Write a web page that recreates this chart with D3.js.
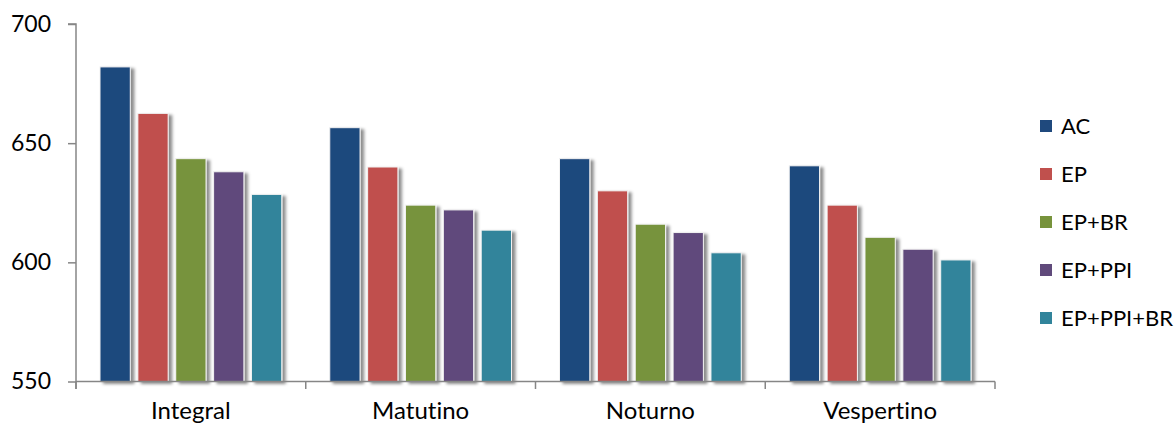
<!DOCTYPE html>
<html>
<head>
<meta charset="utf-8">
<script src="https://cdn.jsdelivr.net/npm/d3@7"></script>
<style>
  html, body { margin: 0; padding: 0; background: #fff; }
  svg { display: block; }
  text { font-family: Lato, "Open Sans", sans-serif; fill: #000; font-variant-ligatures: none; }
</style>
</head>
<body>
<svg id="chart" width="1176" height="425"></svg>
<script>
// Periods (x categories) and series names
const categories = ["Integral", "Matutino", "Noturno", "Vespertino"];
const seriesNames = ["AC", "EP", "EP+BR", "EP+PPI", "EP+PPI+BR"];
const seriesColors = ["#1F497D", "#C0504D", "#77933C", "#604A7B", "#31849B"];

// Values per series, ordered like categories
const valuesAC       = [682, 656.5, 643.5, 640.5];
const valuesEP       = [662.5, 640, 630, 624];
const valuesEPBR     = [643.5, 624, 616, 610.5];
const valuesEPPPI    = [638, 622, 612.5, 605.5];
const valuesEPPPIBR  = [628.5, 613.5, 604, 601];

const yTicks = [550, 600, 650, 700];

const seriesValues = [valuesAC, valuesEP, valuesEPBR, valuesEPPPI, valuesEPPPIBR];

const svg = d3.select("#chart");

const plot = { left: 76, right: 995, top: 24, bottom: 381.5 };

const x0 = d3.scaleBand().domain(categories).range([plot.left, plot.right]).padding(0);
const x1 = d3.scaleBand().domain(seriesNames)
  .range([24, x0.bandwidth() - 24]).paddingInner(0.2).paddingOuter(0);
const y = d3.scaleLinear().domain([550, 700]).range([plot.bottom, plot.top]);

// drop shadow for the bars
const defs = svg.append("defs");
const f = defs.append("filter").attr("id", "shadow")
  .attr("x", "-20%").attr("y", "-10%").attr("width", "160%").attr("height", "130%");
f.append("feDropShadow").attr("dx", 3.5).attr("dy", 2).attr("stdDeviation", 1.8)
  .attr("flood-color", "#000").attr("flood-opacity", 0.45);

// bars
const groups = svg.append("g").selectAll("g")
  .data(categories)
  .join("g")
  .attr("transform", d => `translate(${x0(d)},0)`);

groups.selectAll("rect")
  .data((c, ci) => seriesNames.map((s, si) => ({ s, si, v: seriesValues[si][ci] })))
  .join("rect")
  .attr("x", d => x1(d.s))
  .attr("y", d => y(d.v))
  .attr("width", x1.bandwidth())
  .attr("height", d => y(550) - y(d.v))
  .attr("fill", d => seriesColors[d.si])
  .attr("stroke", "#f2f2f2")
  .attr("stroke-width", 1)
  .attr("filter", "url(#shadow)");

// y axis
const yAxis = d3.axisLeft(y).tickValues(yTicks).tickSize(8).tickPadding(17).tickFormat(d3.format("d"));
const gy = svg.append("g").attr("transform", `translate(${plot.left},0)`).call(yAxis);
gy.select(".domain").attr("stroke", "#868686").attr("stroke-width", 1.5)
  .attr("d", `M-8,${plot.top}H0V${plot.bottom + 7.5}`);
gy.selectAll(".tick line").attr("stroke", "#868686").attr("stroke-width", 1.5);
gy.selectAll(".tick text").style("font-size", "23px").style("font-family", "Lato, 'Open Sans', sans-serif").attr("fill", "#000");

// x axis with ticks between categories
const gx = svg.append("g").attr("transform", `translate(0,${plot.bottom})`);
gx.append("line").attr("x1", plot.left).attr("x2", plot.right).attr("y1", 0).attr("y2", 0)
  .attr("stroke", "#868686").attr("stroke-width", 1.5);
const boundaries = categories.map(c => x0(c) + x0.bandwidth()).concat([plot.left]);
gx.selectAll("line.tick").data(boundaries).join("line").attr("class", "tick")
  .attr("x1", d => d).attr("x2", d => d).attr("y1", 0).attr("y2", 7.5)
  .attr("stroke", "#868686").attr("stroke-width", 1.5);
gx.selectAll("text").data(categories).join("text")
  .attr("x", d => x0(d) + x0.bandwidth() / 2)
  .attr("y", 37.5)
  .attr("text-anchor", "middle")
  .style("font-size", "24px")
  .text(d => d);

// legend
const legend = svg.append("g").attr("transform", "translate(1040,126)");
const items = legend.selectAll("g").data(seriesNames).join("g")
  .attr("transform", (d, i) => `translate(0,${i * 48})`);
items.append("rect").attr("x", 0).attr("y", -6).attr("width", 12).attr("height", 12)
  .attr("fill", (d, i) => seriesColors[i]);
items.append("text").attr("x", 21).attr("y", 0).attr("dy", "0.36em")
  .style("font-size", "22px").text(d => d);
</script>
</body>
</html>
